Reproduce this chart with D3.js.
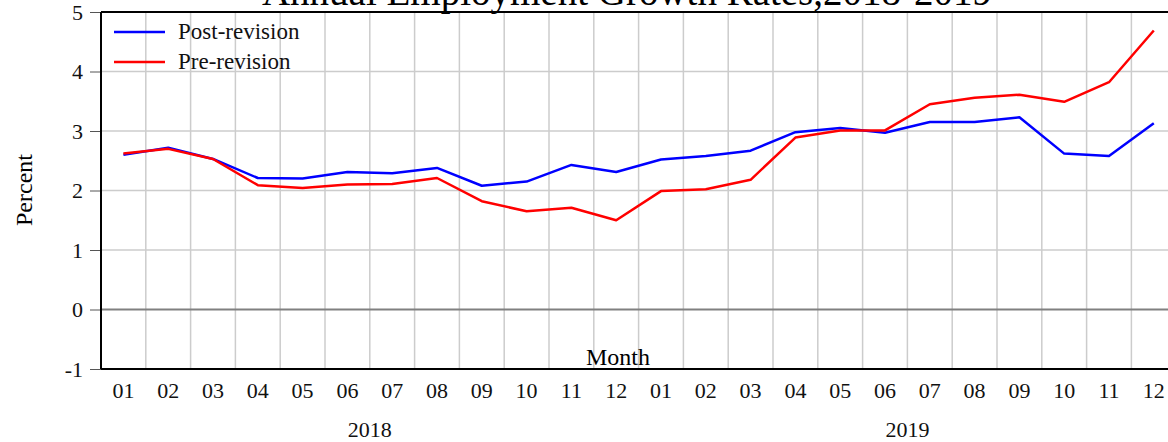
<!DOCTYPE html>
<html>
<head>
<meta charset="utf-8">
<script src="https://cdn.jsdelivr.net/npm/d3@7"></script>
<style>
  html, body { margin: 0; padding: 0; background: #fff; overflow: hidden; }
  svg { display: block; font-family: "Liberation Serif", "DejaVu Serif", serif; }
</style>
</head>
<body>
<svg id="chart" width="1180" height="442"></svg>
<script>
// chart data
var years = ["2018", "2019"];
var monthLabels = ["01","02","03","04","05","06","07","08","09","10","11","12"];
var periods = [];
years.forEach(function (y) { monthLabels.forEach(function (m) { periods.push(y + "-" + m) }) });

var postRevision = [2.60, 2.72, 2.53, 2.21, 2.20, 2.31, 2.29, 2.38, 2.08, 2.15, 2.43, 2.31,
                    2.52, 2.58, 2.67, 2.98, 3.05, 2.97, 3.15, 3.15, 3.23, 2.62, 2.58, 3.13];
var preRevision  = [2.62, 2.70, 2.53, 2.09, 2.04, 2.10, 2.11, 2.21, 1.82, 1.65, 1.71, 1.50,
                    1.99, 2.02, 2.18, 2.89, 3.01, 3.01, 3.45, 3.56, 3.61, 3.49, 3.82, 4.69];
var yTicks = [-1, 0, 1, 2, 3, 4, 5];
var seriesNames = ["Post-revision", "Pre-revision"];
var seriesColors = ["#0000ff", "#ff0000"];

// plot box (the right edge runs past the window, as in the original)
var plotLeft = 101, plotTop = 12, plotBottom = 369, plotRight = 101 + 24 * 44.8;

var svg = d3.select("#chart");

var x = d3.scaleBand().domain(periods).range([plotLeft, plotRight]).padding(0);
var y = d3.scaleLinear().domain([-1, 5]).range([plotBottom, plotTop]);

// grid
svg.append("g")
    .selectAll("line")
    .data(periods.slice(1))
    .enter()
    .append("line")
    .attr("x1", function (d) { return x(d) })
    .attr("x2", function (d) { return x(d) })
    .attr("y1", plotTop)
    .attr("y2", plotBottom)
    .style("stroke", "#cccccc")
    .style("stroke-width", 1.5)

svg.append("g")
    .selectAll("line")
    .data(yTicks.filter(function (t) { return t != 0 && t != -1 && t != 5 }))
    .enter()
    .append("line")
    .attr("x1", plotLeft)
    .attr("x2", plotRight)
    .attr("y1", function (d) { return y(d) })
    .attr("y2", function (d) { return y(d) })
    .style("stroke", "#cccccc")
    .style("stroke-width", 1.5)

// zero line
svg.append("line")
    .attr("x1", plotLeft).attr("x2", plotRight)
    .attr("y1", y(0)).attr("y2", y(0))
    .style("stroke", "#808080")
    .style("stroke-width", 1.8)

// y axis, plain hyphen for the minus like the original
var yAxis = svg.append("g")
    .attr("transform", "translate(" + plotLeft + ",0)")
    .call(d3.axisLeft(y).tickValues(yTicks).tickFormat(function (d) { return String(d) }).tickSize(11).tickPadding(7))
yAxis.select(".domain").remove()
yAxis.selectAll("line").style("stroke", "#555")
yAxis.selectAll("text")
    .style("font-size", "22px")
    .style("font-family", "Liberation Serif")
    .attr("fill", "#111")

// month labels under each band
svg.append("g")
    .selectAll("text")
    .data(periods)
    .enter()
    .append("text")
    .attr("x", function (d) { return x(d) + x.bandwidth() / 2 })
    .attr("y", 398)
    .attr("text-anchor", "middle")
    .style("font-size", "22px")
    .style("fill", "#111")
    .text(function (d) { return d.split("-")[1] })

// year labels
svg.append("g")
    .selectAll("text")
    .data(years)
    .enter()
    .append("text")
    .attr("x", function (d) { return x(d + "-07") })
    .attr("y", 437)
    .attr("text-anchor", "middle")
    .style("font-size", "22px")
    .style("fill", "#111")
    .text(function (d) { return d })

// frame
svg.append("line").attr("x1", plotLeft).attr("x2", plotLeft).attr("y1", plotTop).attr("y2", plotBottom)
    .style("stroke", "#000").style("stroke-width", 2)
svg.append("line").attr("x1", plotLeft).attr("x2", plotRight).attr("y1", plotBottom).attr("y2", plotBottom)
    .style("stroke", "#000").style("stroke-width", 2)
svg.append("line").attr("x1", plotLeft).attr("x2", plotRight).attr("y1", plotTop).attr("y2", plotTop)
    .style("stroke", "#000").style("stroke-width", 2)

// series
var line = d3.line()
    .x(function (d, i) { return x(periods[i]) + x.bandwidth() / 2 })
    .y(function (d) { return y(d) })

var allSeries = [postRevision, preRevision];
svg.append("g")
    .selectAll("path")
    .data(allSeries)
    .enter()
    .append("path")
    .attr("d", line)
    .style("fill", "none")
    .style("stroke", function (d, i) { return seriesColors[i] })
    .style("stroke-width", 2.5)
    .style("stroke-linejoin", "round")

// legend
var legend = svg.append("g")
    .selectAll("g")
    .data(seriesNames)
    .enter()
    .append("g")
    .attr("transform", function (d, i) { return "translate(114," + (32 + 30 * i) + ")" })
legend.append("line")
    .attr("x1", 0).attr("x2", 51)
    .style("stroke", function (d, i) { return seriesColors[i] })
    .style("stroke-width", 2.5)
legend.append("text")
    .attr("x", 64)
    .attr("y", 7)
    .style("font-size", "23px")
    .style("fill", "#111")
    .text(function (d) { return d })

// titles
svg.append("text")
    .attr("x", 627)
    .attr("y", 5)
    .attr("text-anchor", "middle")
    .style("font-size", "39px")
    .style("fill", "#000")
    .text("Annual Employment Growth Rates,2018-2019")

svg.append("text")
    .attr("x", 618)
    .attr("y", 365)
    .attr("text-anchor", "middle")
    .style("font-size", "24px")
    .style("fill", "#000")
    .text("Month")

svg.append("text")
    .attr("transform", "translate(32,190) rotate(-90)")
    .attr("text-anchor", "middle")
    .style("font-size", "24px")
    .style("fill", "#000")
    .text("Percent")
</script>
</body>
</html>
